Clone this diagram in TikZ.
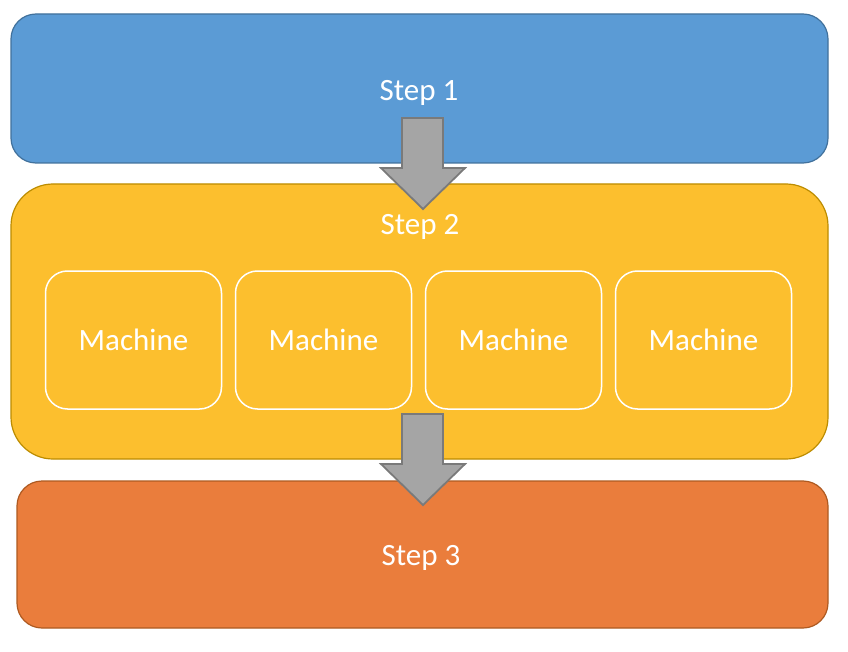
\documentclass[tikz,border=0pt]{standalone}
\usepackage{fontspec}
\setmainfont{Carlito}
\usetikzlibrary{positioning}
\definecolor{stepblue}{HTML}{5B9BD5}
\definecolor{blueline}{HTML}{41719C}
\definecolor{stepgold}{HTML}{FCBF2E}
\definecolor{goldline}{HTML}{BC8C00}
\definecolor{steporange}{HTML}{EA7D3C}
\definecolor{orangeline}{HTML}{AE5A21}
\definecolor{arrowgray}{HTML}{A5A5A5}
\definecolor{arrowline}{HTML}{7A7A7A}

\begin{document}
\begin{tikzpicture}[x=1pt,y=-1pt,
  stepbox/.style={draw,line width=1.2pt,inner sep=0pt},
  steptext/.style={text=white,font=\fontsize{31}{36}\selectfont},
  machinebox/.style={draw=white,line width=1.5pt,rounded corners=22pt,
    minimum width=176pt,minimum height=138pt,text=white,
    font=\fontsize{31}{36}\selectfont},
  downarrow/.style={draw=arrowline,fill=arrowgray,line width=1.8pt}]
  \useasboundingbox (0,0) rectangle (848,652);
  \node[stepbox,draw=blueline,fill=stepblue,rounded corners=25pt,
    minimum width=817pt,minimum height=149pt] (step1) at (419.5,88.5) {};
  \node[steptext] (step1text) at (419,92.5) {Step 1};
  \node[stepbox,draw=goldline,fill=stepgold,rounded corners=42pt,
    minimum width=817pt,minimum height=275pt] (step2) at (419.5,321.5) {};
  \node[steptext] (step2text) at (420,226.5) {Step 2};
  \foreach \i in {0,...,3}
    \node[machinebox] (machine\i) at (133.5+\i*190,340) {Machine};
  \node[stepbox,draw=orangeline,fill=steporange,rounded corners=25pt,
    minimum width=811pt,minimum height=147pt] (step3) at (422.5,554.5) {};
  \node[steptext] (step3text) at (421,557.5) {Step 3};
  % block arrows between the steps
  \foreach \top in {118,414}
    \draw[downarrow] (402,\top) -- (443,\top) -- (443,\top+50) -- (465,\top+50)
      -- (423,\top+91) -- (381,\top+50) -- (402,\top+50) -- cycle;
\end{tikzpicture}
\end{document}
